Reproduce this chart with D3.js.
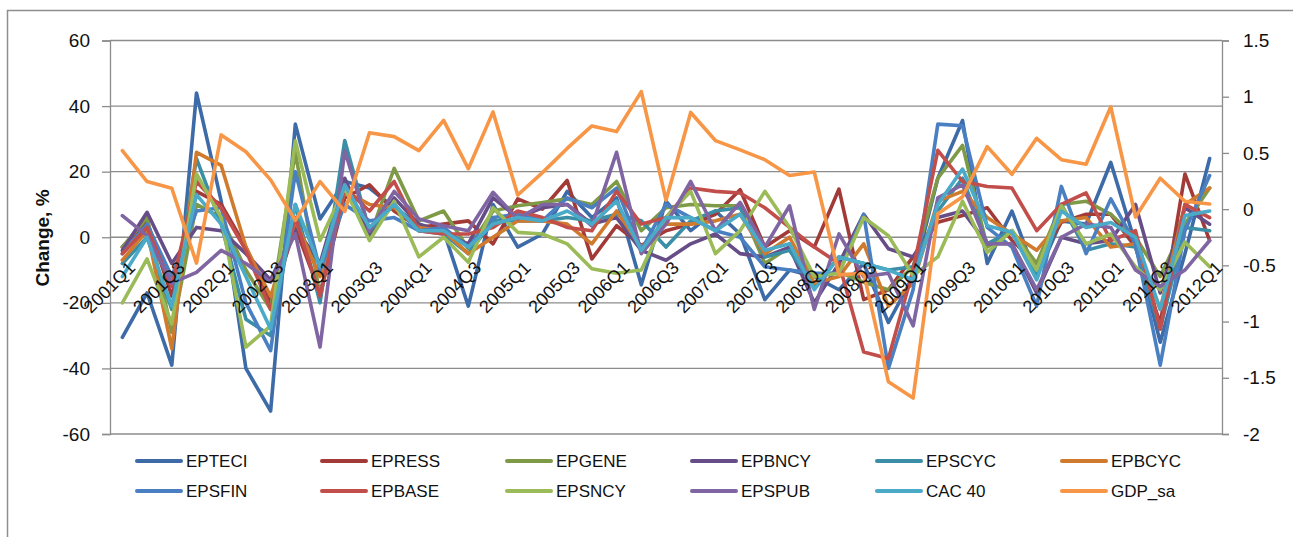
<html>
<head>
<title>EPS change vs GDP</title>
<meta charset="utf-8">
<style>
body { margin: 0; background: #fff; }
svg { display: block; font-family: "Liberation Sans", Arial, sans-serif; }
</style>
</head>
<body>
<script src="https://cdn.jsdelivr.net/npm/d3@7"></script>
<script>
 // quarters 2001Q1 .. 2012Q1
 var quarters = [];
 for (var yr = 2001; yr <= 2012; yr++) {
   for (var q = 1; q <= 4; q++) {
     if (yr == 2012 && q > 1) break;
     quarters.push(yr + 'Q' + q);
   }
 }

 var leftTicks = [-60, -40, -20, 0, 20, 40, 60];
 var rightTicks = [-2, -1.5, -1, -0.5, 0, 0.5, 1, 1.5];

 var seriesNames = ['EPTECI', 'EPRESS', 'EPGENE', 'EPBNCY', 'EPSCYC', 'EPBCYC',
                    'EPSFIN', 'EPBASE', 'EPSNCY', 'EPSPUB', 'CAC 40', 'GDP_sa'];
 var seriesColors = ['#3D6BA8', '#A23B38', '#7E9A47', '#664D88', '#3A8EA6', '#D07A2E',
                     '#4A80C2', '#C24E4B', '#9BBB59', '#8065A3', '#4AAAC8', '#F79646'];

 var EPTECI = [-30.5, -17, -39, 44, 11, -40, -53, 34.5, 5.6, 17, 15, 9, 4, 2, -21, 10, -3, 1, 14, 6, 12, -14.5, 11, 2, 8, 1, -19, -10, -12, -16, -8, -26, -12, 18, 35.6, -8, 8, -12, 5, 4, 22.8, -2, -32, -5, 24];
 var EPRESS = [-3, 5, -18, 14, 10, -3, -20, 3, -17, 12, 16, 8, 3, 4, 5, -2, 11.7, 8.6, 17.3, -6.6, 3.5, -2.5, 2, 4, 7, 14.5, -3, 2, -3, 14.7, -19, -16, -6, 4.6, 6.6, 9, -1, -8, 4.6, 7, 7, -3, -26.4, 19.3, -1];
 var EPGENE = [-3, 6, -29, 10, 6, -10, -22, 26, -18, 15, 0, 21, 5, 8, -3.5, 8, 9.6, 10.6, 11.7, 10, 17, 2, 9, 10, 9.6, 9.6, -8, -3, -12, -10.6, -13.7, -16, -9, 18, 28, -3, 2, -8, 10, 11, 7, 0, -12, 4, 15];
 var EPBNCY = [-4, 7.6, -8, 3, 2, -5, -13, 3, -8, 18, 0, 12, 4, 1, -2, 12, 6, 9, 10, 4, 6, -4, -7, -2, 1, -5, -6, -3, -20, -8, 7, -3.5, -6, 6, 8, -2, -2, -17, 0, -2, -1, 10, -17, 9, 4];
 var EPSCYC = [-8, 0, -22, 24, 4, -25, -30, 10, -20, 29.5, 2, 10, 2, 1, -5, 5, 5, 5, 6, 5, 7, 5, -3, 5, 8, 9, -6, -4, -15, -6, -8, -10, -9, 8, 18, -2, 2, -12, 10, -4, -2, -3, -28, 3, 2];
 var EPBCYC = [-7, 2, -34, 25.9, 21.9, -3, -18, 5, -12, 14, 10, 9, 3, 2, -5, 0, 5, 5, 4, -2, 8, -3, 4, 4, 5, 7, -5, 0, -14, -12, -2, -21, -14, 11, 14, 6, 1, -4, 5, 6, -3, -2, -22, 10, 15];
 var EPSFIN = [-5, 4, -12, 8, 9, -20, -34.6, 20, -10, 10, 5, 6, 2, 3, -3, 6, 7, 5, 12, 9, 15, -4, 10, 6, 2, 0, -9, -10, -11, -11, 7, -40, -16, 34.5, 34, 3, -3, -21, 15.5, -5, 11.7, -2, -39, 2, 18.8];
 var EPBASE = [-5, 3, -15, 17, 9, -4, -22, 6, -18, 15, 8, 17, 2, 1, 1, 3, 8, 6, 3, 2, 14, 4, 6, 15, 14, 13.5, 9, 3, -3, -8, -35, -37, -10, 26.5, 17, 15.5, 15, 2, 10, 13.5, -1, 2, -28, 10, 6];
 var EPSNCY = [-20, -6.6, -26.4, 19.3, 6, -33.5, -27, 29.4, -1, 15, -1, 11, -6, 0, -7.6, 9, 1.5, 1, -2, -9.6, -11, -10, 6, 14, -5, 2, 14, 3, -12, -11, 6, 0.5, -11.7, -6, 11, -4.6, 2, -10, 9.6, -2, 1, -9, -16, -1.5, -9];
 var EPSPUB = [6.6, 0.5, -14, -10.7, -4, -8, -13.7, 1, -33.5, 26.4, 2, 14, 5.6, 3.5, 2, 13.7, 5.6, 10, 10, 3.5, 25.9, -5, 4, 17, 2, 10.6, -3, 9.6, -22, 1, -12, -11, -27, 12, 16, -2, -2, -16, 0, 4, 3, -10, -15, -10, -1];
 var CAC40 = [-12, 0, -21, 13, 4, -12, -28, 10, -9, 16, 3, 10, 2, 2, -3, 4, 6, 5, 8, 4, 11, -4, 6, 6, 2, 7, -4, -2, -16, -6, -8, -10, -13, 10, 20.8, 3.5, 1.5, -13, 8, 3, 4.5, 0, -22, 6.6, 8];
 // GDP on the secondary (right) axis
 var GDP_sa = [0.52, 0.245, 0.186, -0.48, 0.66, 0.51, 0.26, -0.10, 0.245, -0.02, 0.68, 0.645, 0.52, 0.79, 0.36, 0.865, 0.126, 0.325, 0.54, 0.74, 0.69, 1.045, 0.08, 0.86, 0.61, 0.527, 0.44, 0.30, 0.33, -0.585, -0.57, -1.535, -1.68, -0.04, 0.11, 0.556, 0.31, 0.63, 0.44, 0.40, 0.91, -0.07, 0.275, 0.07, 0.046];

 var seriesValues = [EPTECI, EPRESS, EPGENE, EPBNCY, EPSCYC, EPBCYC,
                     EPSFIN, EPBASE, EPSNCY, EPSPUB, CAC40, GDP_sa];

 var W = 1293, H = 537;
 var plot = {left: 110, right: 1222, top: 40.5, bottom: 434};

 var svg = d3.select('body').append('svg')
     .attr('width', W).attr('height', H);

 // chart border
 svg.append('rect')
     .attr('x', 7.5).attr('y', 10.5)
     .attr('width', 1310).attr('height', 560)
     .attr('fill', 'none').attr('stroke', '#8e8e8e').attr('stroke-width', 1.5);

 var x = d3.scalePoint().domain(quarters).range([plot.left, plot.right]).padding(0.5);
 var y = d3.scaleLinear().domain([-60, 60]).range([plot.bottom, plot.top]);
 var y2 = d3.scaleLinear().domain([-2, 1.5]).range([plot.bottom, plot.top]);

 // gridlines
 svg.append('g').selectAll('line').data(leftTicks).enter().append('line')
     .attr('x1', plot.left).attr('x2', plot.right)
     .attr('y1', function(d) { return y(d); }).attr('y2', function(d) { return y(d); })
     .attr('stroke', '#8c8c8c').attr('stroke-width', 1.3);

 // left axis
 var gl = svg.append('g').attr('transform', 'translate(' + plot.left + ',0)')
     .call(d3.axisLeft(y).tickValues(leftTicks).tickSize(8).tickPadding(12));
 // right axis
 var gr = svg.append('g').attr('transform', 'translate(' + plot.right + ',0)')
     .call(d3.axisRight(y2).tickValues(rightTicks).tickSize(7).tickPadding(14)
       .tickFormat(function(d) { return String(d); }));

 [gl, gr].forEach(function(g) {
   g.select('.domain').attr('stroke', '#8c8c8c').attr('stroke-width', 1.3);
   g.selectAll('.tick line').attr('stroke', '#8c8c8c').attr('stroke-width', 1.3);
   g.selectAll('.tick text').attr('font-size', 19)
     .attr('font-family', '"Liberation Sans", Arial, sans-serif').attr('fill', '#111');
 });
 gl.selectAll('.tick text').text(function(d) { return d < 0 ? '-' + Math.abs(d) : d; });
 gr.selectAll('.tick text').text(function(d) { return d < 0 ? '-' + Math.abs(d) : d; });

 // y axis title
 svg.append('text')
     .attr('transform', 'translate(49,238) rotate(-90)')
     .attr('text-anchor', 'middle')
     .attr('font-size', 19).attr('font-weight', 'bold').attr('fill', '#111')
     .text('Change, %');

 // lines
 var line = d3.line()
     .x(function(d, i) { return x(quarters[i]); })
     .y(function(d) { return y(d); });
 var line2 = d3.line()
     .x(function(d, i) { return x(quarters[i]); })
     .y(function(d) { return y2(d); });

 svg.append('g').selectAll('path').data(seriesValues).enter().append('path')
     .attr('d', function(d, k) { return k == 11 ? line2(d) : line(d); })
     .attr('fill', 'none')
     .attr('stroke', function(d, k) { return seriesColors[k]; })
     .attr('stroke-width', 3.6)
     .attr('stroke-linejoin', 'round')
     .attr('stroke-linecap', 'round');

 // category labels, every other quarter, at the zero line
 svg.append('g').selectAll('text')
     .data(quarters.filter(function(d, i) { return i % 2 == 0; }))
     .enter().append('text')
     .attr('transform', function(d) {
       return 'translate(' + (x(d) + 14) + ',' + 269 + ') rotate(-45)';
     })
     .attr('text-anchor', 'end')
     .attr('font-size', 18).attr('fill', '#111')
     .text(function(d) { return d; });

 // legend: 2 rows x 6 columns
 var leg = svg.append('g').selectAll('g').data(seriesNames).enter().append('g')
     .attr('transform', function(d, i) {
       return 'translate(' + (137 + 185 * (i % 6)) + ',' + (461 + 30 * Math.floor(i / 6)) + ')';
     });
 leg.append('line')
     .attr('x1', 0).attr('x2', 44)
     .attr('stroke', function(d, i) { return seriesColors[i]; })
     .attr('stroke-width', 4).attr('stroke-linecap', 'round');
 leg.append('text')
     .attr('x', 49).attr('dy', '0.36em')
     .attr('font-size', 17).attr('fill', '#111')
     .text(function(d) { return d; });
</script>
</body>
</html>
